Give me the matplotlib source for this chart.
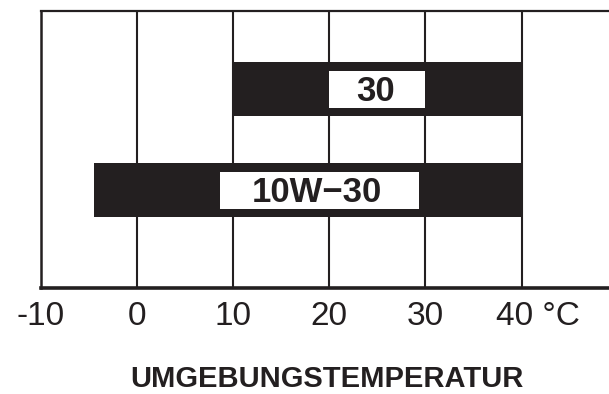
import matplotlib.pyplot as plt
import matplotlib.transforms as mtransforms

plt.rcParams['font.family'] = ['Liberation Sans', 'DejaVu Sans']

# oil grades and the temperature ranges they cover (deg C)
grades = ['10W−30', '30']
temp_low = [-4.5, 10]
temp_high = [40, 40]
# white label boxes inside each bar
label_low = [8.6, 20]
label_high = [29.3, 30]

ticks = [-10, 0, 10, 20, 30, 40]
tick_labels = ['-10', '0', '10', '20', '30', '40 °C']
xlabel = 'UMGEBUNGSTEMPERATUR'

ink = '#231f20'
W, H = 609, 394

fig = plt.figure(figsize=(W / 100, H / 100), dpi=100)
ax = fig.add_axes([41 / W, (H - 288) / H, (W - 41) / W, 277 / H])

ypos = list(range(len(grades)))

# vertical grid lines, behind the bars
for t in ticks[1:]:
    ax.axvline(t, color=ink, lw=1.5, zorder=1)

ax.barh(ypos, [h - l for l, h in zip(temp_low, temp_high)], left=temp_low,
        height=0.53, color=ink, zorder=2)
ax.barh(ypos, [h - l for l, h in zip(label_low, label_high)], left=label_low,
        height=0.37, color='white', zorder=3)

for y, g, l, h in zip(ypos, grades, label_low, label_high):
    ax.annotate(g, xy=((l + h) / 2 - 0.2, y), xytext=(0, -8.5), textcoords='offset points',
                ha='center', va='baseline', fontsize=25, fontweight='bold',
                color=ink, zorder=4)

ax.set_xlim(-10, 49.1)
ax.set_ylim(-0.968, 1.774)
ax.set_yticks([])
ax.set_xticks(ticks)
ax.set_xticklabels(tick_labels, fontsize=24, color=ink)
ax.tick_params(axis='x', length=0, pad=9.5)

# the last label carries the unit, shift it so "40" sits near its line
lab = ax.get_xticklabels()[-1]
lab.set_horizontalalignment('left')
lab.set_transform(lab.get_transform() +
                  mtransforms.ScaledTranslation(-26 / 100, 0, fig.dpi_scale_trans))

ax.spines['right'].set_visible(False)
ax.spines['top'].set_linewidth(1.6)
ax.spines['left'].set_linewidth(1.8)
ax.spines['bottom'].set_linewidth(2.6)
for s in ['top', 'left', 'bottom']:
    ax.spines[s].set_color(ink)

fig.text(327 / W, 1 / H, xlabel, ha='center', va='bottom',
         fontsize=21, fontweight='bold', color=ink)

fig.savefig('out.png', dpi=100)
